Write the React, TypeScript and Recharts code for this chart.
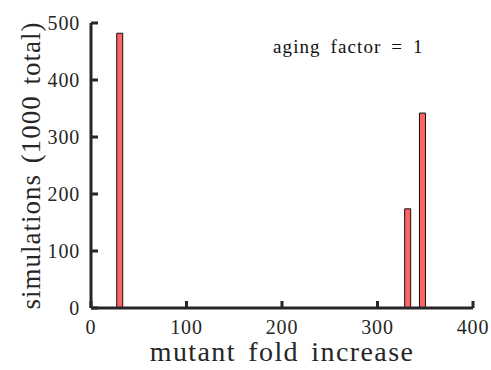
import { BarChart, Bar, XAxis, YAxis } from 'recharts';

const foldIncrease = [30.5, 332, 347.5];
const simulations = [482, 174, 342];
const xTicks = [0, 100, 200, 300, 400];
const yTicks = [0, 100, 200, 300, 400, 500];

const data = foldIncrease.map((x, i) => ({ x, count: simulations[i] }));

const W = 491;
const H = 370;
const MARGIN = { top: 23, right: 18, bottom: 5, left: 0 };
const Y_AXIS_W = 91;
const X_AXIS_H = 57;
const X_MAX = 400;
const Y_MAX = 500;

const FONT = '"Liberation Serif", serif';
const AXIS = '#262626';
const GAP = 11; // distance from axis line to tick label
const TICK = 7; // inward tick length, px

// plot box, same numbers the chart is laid out with
const plotLeft = MARGIN.left + Y_AXIS_W;
const plotRight = W - MARGIN.right;
const plotTop = MARGIN.top;
const plotBottom = H - MARGIN.bottom - X_AXIS_H;
const sx = (v: number) => plotLeft + (v / X_MAX) * (plotRight - plotLeft);
const sy = (v: number) => plotBottom - (v / Y_MAX) * (plotBottom - plotTop);

const XTick = (props: any) => {
  const { x, y, payload } = props;
  return (
    <text x={x} y={y} dy="0.75em" textAnchor="middle" fill="#262626" fontSize={20} fontFamily={FONT} letterSpacing={0.8}>
      {payload.value}
    </text>
  );
};

const YTick = (props: any) => {
  const { x, y, payload } = props;
  return (
    <text x={x} y={y} dy="0.35em" textAnchor="end" fill="#262626" fontSize={20} fontFamily={FONT} letterSpacing={0.8}>
      {payload.value}
    </text>
  );
};

const App = () => {
  return (
    <div style={{ position: 'absolute', left: 0, top: 0, width: W, height: H, background: '#fff' }}>
      <BarChart width={W} height={H} data={data} margin={MARGIN} barSize={6}>
        <XAxis
          dataKey="x"
          type="number"
          domain={[0, X_MAX]}
          ticks={xTicks}
          allowDataOverflow
          height={X_AXIS_H}
          stroke={AXIS}
          strokeWidth={3}
          tickSize={0}
          tickMargin={GAP}
          tickLine={false}
          tick={<XTick />}
          label={{
            value: 'mutant fold increase',
            position: 'insideBottom',
            offset: 4,
            fill: '#262626',
            fontSize: 28,
            fontFamily: FONT,
            style: { letterSpacing: '1.4px', wordSpacing: '4px' },
          }}
        />
        <YAxis
          type="number"
          domain={[0, Y_MAX]}
          ticks={yTicks}
          width={Y_AXIS_W}
          stroke={AXIS}
          strokeWidth={3}
          tickSize={0}
          tickMargin={GAP}
          tickLine={false}
          tick={<YTick />}
          label={{
            value: 'simulations (1000 total)',
            angle: -90,
            position: 'insideLeft',
            offset: 30,
            fill: '#262626',
            fontSize: 27,
            fontFamily: FONT,
            style: { textAnchor: 'middle', letterSpacing: '1px', wordSpacing: '3px' },
          }}
        />
        <Bar dataKey="count" fill="#ff6464" stroke="#111" strokeWidth={1} isAnimationActive={false} />
      </BarChart>
      {/* inward tick marks */}
      <svg width={W} height={H} style={{ position: 'absolute', left: 0, top: 0, pointerEvents: 'none' }}>
        {xTicks.map((t) => (
          <line key={`xt-${t}`} x1={sx(t)} x2={sx(t)} y1={plotBottom} y2={plotBottom - TICK} stroke={AXIS} strokeWidth={3} />
        ))}
        {yTicks.map((t) => (
          <line key={`yt-${t}`} x1={plotLeft} x2={plotLeft + TICK} y1={sy(t)} y2={sy(t)} stroke={AXIS} strokeWidth={3} />
        ))}
      </svg>
      <div
        style={{
          position: 'absolute',
          left: 273,
          top: 36,
          fontFamily: FONT,
          fontSize: 19,
          letterSpacing: '1.1px',
          wordSpacing: '4px',
          color: '#111',
          whiteSpace: 'nowrap',
        }}
      >
        aging factor = 1
      </div>
    </div>
  );
};

export default App;
